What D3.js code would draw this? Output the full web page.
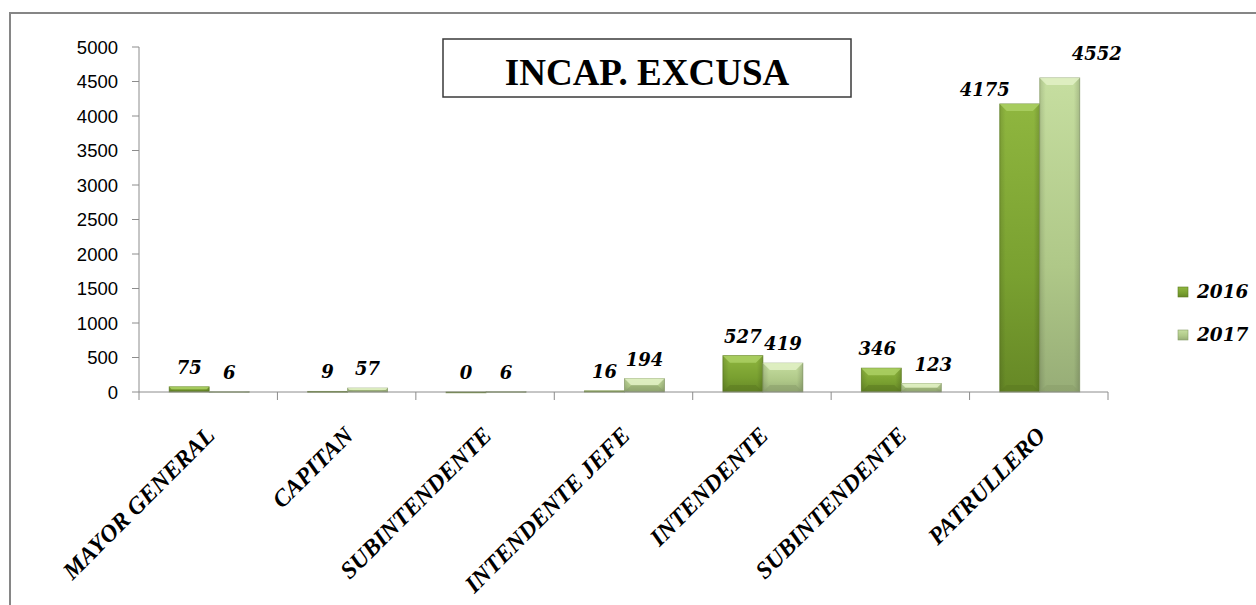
<!DOCTYPE html>
<html><head><meta charset="utf-8">
<script src="https://cdn.jsdelivr.net/npm/d3@7"></script>
<style>body{margin:0;background:#fff}svg{display:block}</style>
</head><body>
<svg id="c" width="1256" height="605"></svg>
<script>
const categories = ["MAYOR GENERAL","CAPITAN","SUBINTENDENTE","INTENDENTE JEFE","INTENDENTE","SUBINTENDENTE","PATRULLERO"];
const seriesNames = ["2016","2017"];
const values2016 = [75, 9, 0, 16, 527, 346, 4175];
const values2017 = [6, 57, 6, 194, 419, 123, 4552];
const yTicks = [0,500,1000,1500,2000,2500,3000,3500,4000,4500,5000];
const title = "INCAP. EXCUSA";
// label nudges (layout only)
const labelDx = [[0,0,0,0,0,-4,-35],[0,0,0,0,0,12,37]];
const labelDy = [[0,0,0,0,0,0,5],[0,0,0,0,0,0,-5]];

const svg = d3.select("#c");
const series = [values2016, values2017];
const m = {left:139, right:1108, top:47, bottom:392};

svg.append("rect").attr("x",10).attr("y",13).attr("width",1400).attr("height",800)
  .attr("fill","#fff").attr("stroke","#868686").attr("stroke-width",2);

const x = d3.scaleBand().domain(d3.range(categories.length)).range([m.left,m.right]).paddingInner(0).paddingOuter(0);
const bw = x.bandwidth();
const x1 = d3.scaleBand().domain([0,1]).range([bw*0.218, bw*0.796]);
const y = d3.scaleLinear().domain([0,5000]).range([m.bottom,m.top]);

const defs = svg.append("defs");
const cols = [
  {top:"#8fb63f", mid:"#79a030", bot:"#668826", bevT:"#acd064", side:"#5b7a20", bevB:"#5a7820"},
  {top:"#c6dea0", mid:"#afc888", bot:"#97ad77", bevT:"#e2f1c5", side:"#889d68", bevB:"#879c68"}
];
cols.forEach((c,i)=>{
  const g = defs.append("linearGradient").attr("id","g"+i).attr("x1",0).attr("y1",0).attr("x2",0).attr("y2",1);
  g.append("stop").attr("offset","0%").attr("stop-color",c.top);
  g.append("stop").attr("offset","60%").attr("stop-color",c.mid);
  g.append("stop").attr("offset","100%").attr("stop-color",c.bot);
  const h = defs.append("linearGradient").attr("id","h"+i).attr("x1",0).attr("y1",0).attr("x2",1).attr("y2",0);
  h.append("stop").attr("offset","0%").attr("stop-color","#000").attr("stop-opacity",0.12);
  h.append("stop").attr("offset","15%").attr("stop-color","#000").attr("stop-opacity",0);
  h.append("stop").attr("offset","85%").attr("stop-color","#000").attr("stop-opacity",0);
  h.append("stop").attr("offset","100%").attr("stop-color","#000").attr("stop-opacity",0.15);
});

// axes
const gy = svg.append("g");
gy.append("line").attr("x1",m.left).attr("x2",m.left).attr("y1",y(5000)).attr("y2",y(0)).attr("stroke","#8c8c8c");
yTicks.forEach(t=>{
  gy.append("line").attr("x1",m.left-7).attr("x2",m.left).attr("y1",y(t)).attr("y2",y(t)).attr("stroke","#8c8c8c");
  gy.append("text").attr("x",118).attr("y",y(t)).attr("dy","0.36em").attr("text-anchor","end")
    .attr("font-family","Liberation Sans, Arial, sans-serif").attr("font-size",18.5).attr("fill","#000").text(t);
});

// bars
categories.forEach((cat,ci)=>{
  series.forEach((vals,si)=>{
    const v = vals[ci];
    const bx = x(ci)+x1(si), w = x1.bandwidth();
    const top = y(v), h = y(0)-y(v);
    const c = cols[si];
    const g = svg.append("g");
    g.append("rect").attr("x",bx).attr("y",top).attr("width",w).attr("height",Math.max(h,0.8))
      .attr("fill",`url(#g${si})`).attr("stroke",c.side).attr("stroke-width",0.8).attr("stroke-opacity",0.8);
    g.append("rect").attr("x",bx).attr("y",top).attr("width",w).attr("height",Math.max(h,0.8)).attr("fill",`url(#h${si})`);
    const b = Math.min(7, h/2);
    if (b>0.5){
      g.append("polygon").attr("points",[[bx,top],[bx+w,top],[bx+w-b,top+b],[bx+b,top+b]].map(p=>p.join(",")).join(" "))
        .attr("fill",c.bevT).attr("opacity",0.85);
      g.append("polygon").attr("points",[[bx,y(0)],[bx+w,y(0)],[bx+w-b,y(0)-b],[bx+b,y(0)-b]].map(p=>p.join(",")).join(" "))
        .attr("fill",c.bevB).attr("opacity",0.5);
    }
    svg.append("text").attr("x",bx+w/2+labelDx[si][ci]).attr("y",top-13+labelDy[si][ci])
      .attr("text-anchor","middle").attr("font-family","DejaVu Serif, Georgia, serif")
      .attr("font-weight","bold").attr("font-style","italic").attr("font-size",18).attr("fill","#000").text(v);
  });
});

// x axis
svg.append("line").attr("x1",m.left).attr("x2",m.right).attr("y1",y(0)).attr("y2",y(0)).attr("stroke","#8c8c8c");
d3.range(categories.length+1).forEach(i=>{
  const xx = m.left + i*bw;
  svg.append("line").attr("x1",xx).attr("x2",xx).attr("y1",y(0)).attr("y2",y(0)+8).attr("stroke","#8c8c8c");
});
categories.forEach((cat,ci)=>{
  const cx = x(ci)+bw/2;
  svg.append("text").attr("transform",`translate(${cx+8},${437}) rotate(-45)`)
    .attr("text-anchor","end").attr("font-family","Liberation Serif, Times New Roman, serif")
    .attr("font-weight","bold").attr("font-style","italic").attr("font-size",24).attr("fill","#000").text(cat);
});

// title
svg.append("rect").attr("x",443).attr("y",39).attr("width",408).attr("height",58)
  .attr("fill","#fff").attr("stroke","#3a3a3a").attr("stroke-width",1.5);
svg.append("text").attr("x",647).attr("y",85).attr("text-anchor","middle")
  .attr("font-family","Liberation Serif, Times New Roman, serif").attr("font-weight","bold")
  .attr("font-size",37).attr("fill","#000").text(title);

// legend
seriesNames.forEach((s,si)=>{
  const ly = [292,335][si];
  svg.append("rect").attr("x",1178).attr("y",ly-5).attr("width",10).attr("height",10).attr("fill",`url(#g${si})`)
    .attr("stroke",cols[si].side).attr("stroke-width",0.6);
  svg.append("text").attr("x",1197).attr("y",ly+6).attr("font-family","DejaVu Serif, Georgia, serif")
    .attr("font-weight","bold").attr("font-style","italic").attr("font-size",18.5).attr("fill","#000").text(s);
});
</script>
</body></html>
